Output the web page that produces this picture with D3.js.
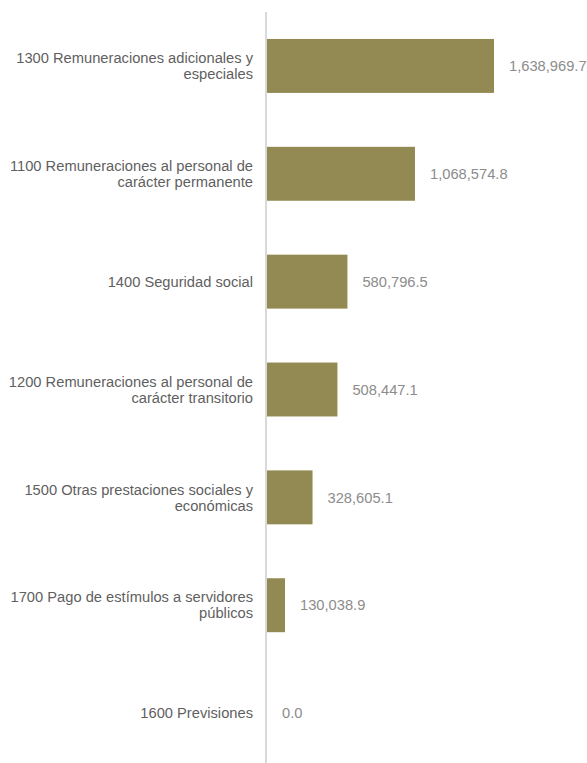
<!DOCTYPE html>
<html>
<head>
<meta charset="utf-8">
<script src="https://cdn.jsdelivr.net/npm/d3@7"></script>
<style>
	body { margin: 0; background: #fff; }
	text { font-family: "Liberation Sans", Arial, sans-serif; font-size: 14.7px; }
	.cat-label { fill: #5f5f5f; }
	.val-label { fill: #8c8c8c; }
</style>
</head>
<body>
<div id="chart"></div>
<script>
//Data
var categories = [
	"1300 Remuneraciones adicionales y especiales",
	"1100 Remuneraciones al personal de carácter permanente",
	"1400 Seguridad social",
	"1200 Remuneraciones al personal de carácter transitorio",
	"1500 Otras prestaciones sociales y económicas",
	"1700 Pago de estímulos a servidores públicos",
	"1600 Previsiones"
];
var values = [1638969.7, 1068574.8, 580796.5, 508447.1, 328605.1, 130038.9, 0.0];

//SVG setup
var width = 587;
var height = 763;
var left = 266;

var svg = d3.select('#chart')
	.append('svg')
	.attr('width', width)
	.attr('height', height);

var data = categories.map(function(c, i) { return { cat: c, value: values[i] }; });

//Scales
var y = d3.scaleBand()
	.domain(categories)
	.range([12, 767])
	.paddingInner(0.5)
	.paddingOuter(0.25);

var x = d3.scaleLinear()
	.domain([0, d3.max(values)])
	.range([left + 1, left + 228]);

//Bars
svg.selectAll(".bar")
	.data(data)
	.enter()
	.append("rect")
	.attr("class", "bar")
	.attr("x", x(0))
	.attr("y", function(d) { return y(d.cat); })
	.attr("width", function(d) { return x(d.value) - x(0); })
	.attr("height", y.bandwidth())
	.attr("fill", "#938953");

//Axis line
svg.append("g")
	.attr("transform", "translate(" + left + ",0)")
	.call(d3.axisLeft(y).tickSize(0).tickFormat(""))
	.call(function(g) {
		g.select(".domain").attr("stroke", "#d9d9d9").attr("stroke-width", 2)
			.attr("d", "M0,12V" + height);
	});

//Category labels
svg.selectAll(".cat-label")
	.data(data)
	.enter()
	.append("text")
	.attr("class", "cat-label")
	.attr("text-anchor", "end")
	.attr("x", 253)
	.attr("y", function(d) { return y(d.cat) + y.bandwidth() / 2; })
	.text(function(d) { return d.cat; })
	.call(wrap, 250);

//Value labels
svg.selectAll(".val-label")
	.data(data)
	.enter()
	.append("text")
	.attr("class", "val-label")
	.attr("x", function(d) { return x(d.value) + 15; })
	.attr("y", function(d) { return y(d.cat) + y.bandwidth() / 2; })
	.attr("dy", "0.35em")
	.text(function(d) { return d3.format(",.1f")(d.value); });

//Wraps labels into tspans, then centers the block on the band
function wrap(text, w) {
	text.each(function() {
		var text = d3.select(this),
			words = text.text().split(/\s+/).reverse(),
			word,
			line = [],
			lines = [],
			x0 = text.attr("x"),
			y0 = +text.attr("y"),
			lineHeight = 16;
		text.text(null);
		var tspan = text.append("tspan").attr("x", x0);
		while (word = words.pop()) {
			line.push(word);
			tspan.text(line.join(" "));
			if (tspan.node().getComputedTextLength() > w && line.length > 1) {
				line.pop();
				tspan.text(line.join(" "));
				lines.push(tspan);
				line = [word];
				tspan = text.append("tspan").attr("x", x0).text(word);
			}
		}
		lines.push(tspan);
		var n = lines.length;
		lines.forEach(function(t, i) {
			t.attr("y", y0 + (i - (n - 1) / 2) * lineHeight).attr("dy", "0.35em");
		});
	});
}
</script>
</body>
</html>
